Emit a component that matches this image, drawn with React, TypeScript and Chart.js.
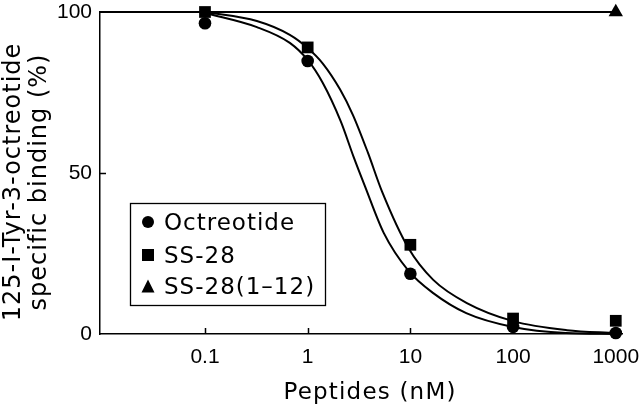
import React, { useEffect, useRef } from "react";
import { Chart, registerables } from "chart.js";

Chart.register(...registerables);

// ---- data ----
const X_MIN = 0.0095;
const X_MAX = 1150;
const concentrations = [0.1, 1, 10, 100, 1000];
const octreotideValues = [96.5, 84.8, 18.7, 2.2, 0.3];
const ss28Values = [100, 89, 27.7, 4.8, 4.1];
const ss28_1_12X = [X_MIN, 1000];
const ss28_1_12Values = [100, 100];
const octreotideFitX = [0.1, 0.32, 0.67, 1, 1.4, 2.1, 2.8, 3.6, 5.5, 9.6, 16.7, 35, 100, 330, 1000];
const octreotideFit = [99.7, 95.3, 90.4, 85.1, 78, 66, 55, 46, 31.4, 19.6, 12.7, 6.5, 2.2, 0.3, 0];
const ss28FitX = [0.1, 0.32, 0.67, 1, 1.41, 2.07, 2.76, 3.86, 5.3, 9.6, 16.7, 35.5, 100, 334, 1000];
const ss28Fit = [100, 97.2, 92.9, 88.8, 83.9, 75.9, 68.0, 56.3, 44.2, 26.6, 16.8, 9.6, 4.0, 1.2, 0.3];
const xTicks = [0.1, 1, 10, 100, 1000];
const yTicks = [0, 50, 100];
const legendLabels = ["Octreotide", "SS-28", "SS-28(1\u201312)"];
const xTitle = "Peptides (nM)";
const yTitle = ["125-I-Tyr-3-octreotide", "specific binding (%)"];

const TICK_FONT = '"Liberation Sans", Arial, Helvetica, sans-serif';
const TEXT_FONT = '"DejaVu Sans", Verdana, sans-serif';

const pts = (xs: number[], ys: number[]) => xs.map((x, i) => ({ x, y: ys[i] }));

function drawMarker(ctx: CanvasRenderingContext2D, style: string, x: number, y: number, s: number) {
  ctx.beginPath();
  if (style === "circle") {
    ctx.arc(x, y, s / 2, 0, Math.PI * 2);
  } else if (style === "rect") {
    ctx.rect(x - s / 2, y - s / 2, s, s);
  } else {
    ctx.moveTo(x, y - s / 2);
    ctx.lineTo(x + s / 2, y + s / 2);
    ctx.lineTo(x - s / 2, y + s / 2);
    ctx.closePath();
  }
  ctx.fill();
}

const decorPlugin = {
  id: "decor",
  afterDraw(chart: any) {
    const ctx: CanvasRenderingContext2D = chart.ctx;
    const xs = chart.scales.x;
    const ys = chart.scales.y;
    const area = chart.chartArea;
    ctx.save();
    ctx.strokeStyle = "#000";
    ctx.fillStyle = "#000";
    // inward tick marks
    ctx.lineWidth = 1.5;
    ctx.beginPath();
    xTicks.forEach((v) => {
      const px = Math.round(xs.getPixelForValue(v)) + 0.5;
      ctx.moveTo(px, area.bottom);
      ctx.lineTo(px, area.bottom - 6);
    });
    yTicks.forEach((v) => {
      if (v === 0 || v === 100) return;
      const py = Math.round(ys.getPixelForValue(v)) + 0.5;
      ctx.moveTo(area.left, py);
      ctx.lineTo(area.left + 6, py);
    });
    ctx.stroke();

    // legend box
    ctx.lineWidth = 1.3;
    ctx.strokeRect(130.5, 203.5, 195, 102);
    const styles = ["circle", "rect", "triangle"];
    const centers = [222, 255, 286];
    const baselines = [230, 263, 294];
    ctx.font = `23px ${TEXT_FONT}`;
    (ctx as any).letterSpacing = "1px";
    ctx.textAlign = "left";
    ctx.textBaseline = "alphabetic";
    legendLabels.forEach((lab, i) => {
      drawMarker(ctx, styles[i], 148, centers[i], styles[i] === "triangle" ? 13 : 12);
      ctx.fillText(lab, 164, baselines[i]);
    });

    // x title
    ctx.font = `23px ${TEXT_FONT}`;
    (ctx as any).letterSpacing = "1.2px";
    ctx.textAlign = "center";
    ctx.fillText(xTitle, 370, 399);

    // y title (two lines, rotated)
    ctx.font = `24px ${TEXT_FONT}`;
    (ctx as any).letterSpacing = "1px";
    const xPos = [20, 46];
    yTitle.forEach((line, i) => {
      ctx.save();
      ctx.translate(xPos[i], 182);
      ctx.rotate(-Math.PI / 2);
      ctx.textAlign = "center";
      ctx.fillText(line, 0, 0);
      ctx.restore();
    });
    ctx.restore();
  },
};

export default function App() {
  const canvasRef = useRef<HTMLCanvasElement | null>(null);

  useEffect(() => {
    document.body.style.margin = "0";
    const canvas = canvasRef.current;
    if (!canvas) return;
    const chart = new Chart(canvas, {
      type: "scatter",
      data: {
        datasets: [
          {
            label: "Octreotide fit",
            data: pts(octreotideFitX, octreotideFit),
            showLine: true,
            borderColor: "#000",
            borderWidth: 2,
            pointRadius: 0,
            cubicInterpolationMode: "monotone",
            clip: false,
          } as any,
          {
            label: "SS-28 fit",
            data: pts(ss28FitX, ss28Fit),
            showLine: true,
            borderColor: "#000",
            borderWidth: 2,
            pointRadius: 0,
            cubicInterpolationMode: "monotone",
            clip: false,
          } as any,
          {
            label: legendLabels[2],
            data: pts(ss28_1_12X, ss28_1_12Values),
            showLine: true,
            borderColor: "#000",
            borderWidth: 2,
            backgroundColor: "#000",
            pointStyle: "triangle",
            pointRadius: [0, 8.3],
            pointBorderWidth: 0,
            clip: false,
          } as any,
          {
            label: legendLabels[0],
            data: pts(concentrations, octreotideValues),
            showLine: false,
            backgroundColor: "#000",
            borderColor: "#000",
            pointStyle: "circle",
            pointRadius: 6.3,
            pointBorderWidth: 0,
            clip: false,
          } as any,
          {
            label: legendLabels[1],
            data: pts(concentrations, ss28Values),
            showLine: false,
            backgroundColor: "#000",
            borderColor: "#000",
            pointStyle: "rect",
            pointRadius: 8.3,
            pointBorderWidth: 0,
            clip: false,
          } as any,
        ],
      },
      options: {
        responsive: false,
        animation: false,
        events: [],
        layout: { padding: { left: 0, top: 12, right: 18, bottom: 0 } },
        plugins: {
          legend: { display: false },
          tooltip: { enabled: false },
          title: { display: false },
        },
        scales: {
          x: {
            type: "logarithmic",
            min: X_MIN,
            max: X_MAX,
            afterBuildTicks: (scale: any) => {
              scale.ticks = xTicks.map((v) => ({ value: v }));
            },
            afterFit: (scale: any) => {
              scale.height = 71;
              scale.paddingLeft = 0;
              scale.paddingRight = 0;
            },
            ticks: {
              autoSkip: false,
              maxRotation: 0,
              padding: 11,
              color: "#000",
              font: { family: TICK_FONT, size: 21 },
              callback: (v: any) => String(v),
            },
            grid: { drawOnChartArea: false, drawTicks: false },
            border: { display: true, color: "#000", width: 1.5 },
          },
          y: {
            type: "linear",
            min: 0,
            max: 100,
            afterBuildTicks: (scale: any) => {
              scale.ticks = yTicks.map((v) => ({ value: v }));
            },
            afterFit: (scale: any) => {
              scale.width = 100;
              scale.paddingTop = 0;
              scale.paddingBottom = 0;
            },
            ticks: {
              padding: 8,
              color: "#000",
              font: { family: TICK_FONT, size: 21 },
            },
            grid: { drawOnChartArea: false, drawTicks: false },
            border: { display: true, color: "#000", width: 1.5 },
          },
        },
      } as any,
      plugins: [decorPlugin],
    });
    return () => chart.destroy();
  }, []);

  return (
    <div style={{ width: 640, height: 405, background: "#fff" }}>
      <canvas ref={canvasRef} width={640} height={405} />
    </div>
  );
}
